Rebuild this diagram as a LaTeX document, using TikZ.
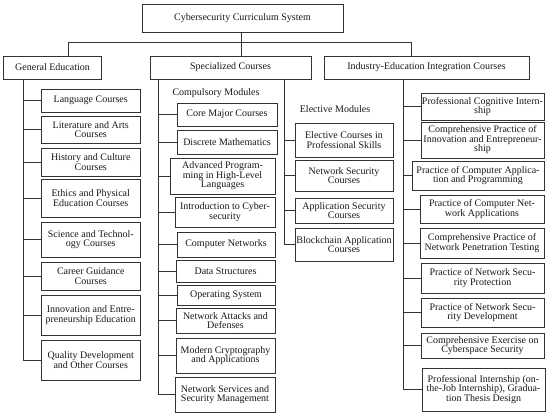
\documentclass[tikz,border=0pt]{standalone}
\usepackage{fontspec}
\setmainfont{Liberation Serif}
\tikzset{
  box/.style={draw=black!80, line width=0.6pt, inner sep=0pt, align=center,
    font=\fontsize{10}{9.5}\selectfont, text=black!90},
  lbl/.style={inner sep=0pt, font=\fontsize{10}{9.5}\selectfont, text=black!90},
  conn/.style={draw=black!80, line width=0.6pt}
}
\newcommand\bx[6]{\node[box,minimum width={#4-#2},minimum height={#5-#3}] (#1) at ({(#2+#4)/2},{(#3+#5)/2}) {#6};}
\begin{document}
\begin{tikzpicture}[x=1pt,y=-1pt]
\useasboundingbox[fill=white] (0,0) rectangle (550,417);
% top
\bx{top}{142}{4}{343}{32}{Cybersecurity Curriculum System}
\bx{ge}{3.5}{56}{101.5}{79}{General Education}
\bx{spec}{150}{56}{311}{79}{Specialized Courses}
\bx{ind}{324}{56}{529}{79}{Industry-Education Integration Courses}
\coordinate (bl) at (68,42);
\coordinate (bm) at (241,42);
\coordinate (br) at (411,42);
\draw[conn] (bl) -- (br);
\draw[conn] (bm |- top.south) -- (bm |- spec.north);
\draw[conn] (bl) -- (bl |- ge.north);
\draw[conn] (br) -- (br |- ind.north);
% general education
\bx{lang}{41.5}{89}{140}{112}{Language Courses}
\bx{lit}{41.5}{116}{140}{143}{Literature and Arts\\Courses}
\bx{hist}{41.5}{148}{140}{176}{History and Culture\\Courses}
\bx{eth}{41.5}{179}{140}{217}{Ethics and Physical\\Education Courses}
\bx{sci}{41.5}{222}{140}{257}{Science and Technol-\\ogy Courses}
\bx{car}{41.5}{262}{140}{290}{Career Guidance\\Courses}
\bx{inn}{41.5}{295}{140}{335}{Innovation and Entre-\\preneurship Education}
\bx{qual}{41.5}{340}{140}{380}{Quality Development\\and Other Courses}
\coordinate (gs) at (23,0);
\draw[conn] (gs |- ge.south) |- (qual.west);
\foreach \n in {lang,lit,hist,eth,sci,car,inn}{\draw[conn] (gs |- \n.west) -- (\n.west);}
% specialized compulsory
\node[lbl] (comp) at (216,93) {Compulsory Modules};
\bx{core}{177}{103}{277}{126}{Core Major Courses}
\bx{disc}{177}{130}{277}{154}{Discrete Mathematics}
\bx{adv}{170}{158}{275}{194}{Advanced Program-\\ming in High-Level\\Languages}
\bx{intro}{175}{197}{275}{227}{Introduction to Cyber-\\security}
\bx{cn}{177}{232}{275}{257}{Computer Networks}
\bx{ds}{176}{260}{275}{282}{Data Structures}
\bx{os}{177}{285}{275}{305}{Operating System}
\bx{nad}{176}{308}{275}{333}{Network Attacks and\\Defenses}
\bx{mc}{176}{338}{275}{373}{Modern Cryptography\\and Applications}
\bx{ns}{175}{377}{275}{412}{Network Services and\\Security Management}
\coordinate (ss) at (158,0);
\draw[conn] (ss |- spec.south) |- (ns.west);
\foreach \n in {core,disc,adv,intro,cn,ds,os,nad,mc}{\draw[conn] (ss |- \n.west) -- (\n.west);}
% elective
\node[lbl] (elec) at (335,109) {Elective Modules};
\bx{ela}{295}{123}{393}{157}{Elective Courses in\\Professional Skills}
\bx{elb}{295}{160}{393}{191}{Network Security\\Courses}
\bx{elc}{295}{198}{393}{223}{Application Security\\Courses}
\bx{eld}{295}{228}{393}{261}{Blockchain Application\\Courses}
\coordinate (es) at (284,0);
\draw[conn] (es |- spec.south) |- (eld.west);
\foreach \n in {ela,elb,elc}{\draw[conn] (es |- \n.west) -- (\n.west);}
% industry
\bx{ia}{421}{93}{544}{120}{Professional Cognitive Intern-\\ship}
\bx{ib}{421}{122}{544}{158}{Comprehensive Practice of\\Innovation and Entrepreneur-\\ship}
\bx{ic}{412}{161}{544}{190}{Practice of Computer Applica-\\tion and Programming}
\bx{id}{420}{195}{544}{223}{Practice of Computer Net-\\work Applications}
\bx{ie}{420}{228}{544}{258}{Comprehensive Practice of\\Network Penetration Testing}
\bx{if}{421}{263}{544}{293}{Practice of Network Secu-\\rity Protection}
\bx{ig}{421}{298}{544}{327}{Practice of Network Secu-\\rity Development}
\bx{ih}{421}{333}{544}{358}{Comprehensive Exercise on\\Cyberspace Security}
\bx{ii}{422}{368}{545}{411}{Professional Internship (on-\\the-Job Internship), Gradua-\\tion Thesis Design}
\coordinate (is) at (403,0);
\draw[conn] (is |- ind.south) |- (ii.west);
\foreach \n in {ia,ib,ic,id,ie,if,ig,ih}{\draw[conn] (is |- \n.west) -- (\n.west);}
\end{tikzpicture}
\end{document}
